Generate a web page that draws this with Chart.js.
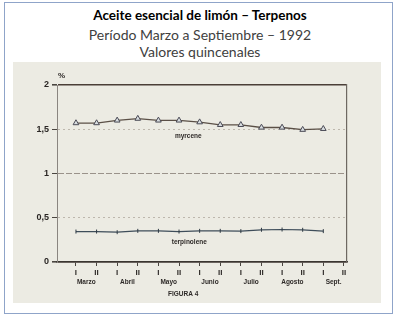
<!DOCTYPE html>
<html>
<head>
<meta charset="utf-8">
<script src="https://cdn.jsdelivr.net/npm/chart.js@4"></script>
<style>
  html, body { margin: 0; padding: 0; background: #ffffff; }
  body { width: 400px; height: 323px; position: relative; overflow: hidden; }
  #frame { position: absolute; left: 4px; top: 2px; width: 387px; height: 310px; border: 1.5px solid #8fa4c9; }
  .t { position: absolute; left: 0; width: 400px; text-align: center; font-family: Lato, "Open Sans", sans-serif; white-space: nowrap; }
  #t1 { top: 7px; font-size: 13.5px; font-weight: bold; color: #000; }
  #t2 { top: 26px; font-size: 14px; color: #404040; }
  #t3 { top: 43px; font-size: 14px; color: #404040; }
  #wrap { position: absolute; left: 13px; top: 62px; width: 368px; height: 241px; background: #ecebe3; }
</style>
</head>
<body>
<div id="frame"></div>
<div class="t" id="t1">Aceite esencial de limón – Terpenos</div>
<div class="t" id="t2">Período Marzo a Septiembre – 1992</div>
<div class="t" id="t3">Valores quincenales</div>
<div id="wrap"><canvas id="c" width="368" height="241"></canvas></div>
<script>
// ---- data ----
const periods = ["Marzo I","Marzo II","Abril I","Abril II","Mayo I","Mayo II","Junio I","Junio II","Julio I","Julio II","Agosto I","Agosto II","Sept. I"];
const halves = ["I","II"];
const months = ["Marzo","Abril","Mayo","Junio","Julio","Agosto","Sept."];
const myrcene = [1.57,1.57,1.60,1.62,1.60,1.60,1.58,1.55,1.55,1.52,1.52,1.495,1.505];
const terpinolene = [0.344,0.344,0.337,0.352,0.352,0.344,0.352,0.352,0.349,0.364,0.367,0.364,0.349];
const yTicks = [0,0.5,1,1.5,2];
const yTickLabels = ["0","0,5","1","1,5","2"];
const annotations = [
  {text:"%", x:0.3, y:2.1, size:8},
  {text:"myrcene", x:6.45, y:1.42, size:6.5},
  {text:"terpinolene", x:6.5, y:0.22, size:6.5}
];
const footer = "FIGURA 4";

const ink = "#4a4540";
const pts = (arr) => arr.map((v,i) => ({x: i+1, y: v}));

const textPlugin = {
  id: 'texts',
  afterDraw(chart) {
    const ctx = chart.ctx, xs = chart.scales.x, ys = chart.scales.y;
    ctx.save();
    ctx.fillStyle = "#2e2a28";
    ctx.textAlign = "center";
    ctx.textBaseline = "middle";
    annotations.forEach(a => {
      ctx.font = "bold " + a.size + "px 'Liberation Sans', sans-serif";
      ctx.fillText(a.text, xs.getPixelForValue(a.x), ys.getPixelForValue(a.y));
    });
    ctx.font = "bold 6.5px 'Liberation Sans', sans-serif";
    ctx.fillText(footer, xs.getPixelForValue(6.2), chart.chartArea.bottom + 32);
    ctx.restore();
  }
};

new Chart(document.getElementById('c'), {
  type: 'line',
  data: {
    datasets: [
      { label: 'myrcene', data: pts(myrcene), borderColor: "#5b5047", borderWidth: 1.3,
        pointStyle: 'triangle', pointRadius: 3.3, pointBorderWidth: 1, pointBorderColor: "#4a4a55",
        pointBackgroundColor: "#d8dde0", tension: 0, xAxisID: 'x', yAxisID: 'y' },
      { label: 'terpinolene', data: pts(terpinolene), borderColor: "#3e4d5a", borderWidth: 1.2,
        pointStyle: 'line', rotation: 90, pointRadius: 2, pointBorderWidth: 1, pointBorderColor: "#2f3a44",
        tension: 0, xAxisID: 'x', yAxisID: 'y' }
    ]
  },
  options: {
    responsive: false,
    animation: false,
    layout: { padding: { left: 14, right: 34, top: 23, bottom: 13 } },
    plugins: { legend: { display: false }, tooltip: { enabled: false }, title: { display: false } },
    scales: {
      x: {
        type: 'linear', position: 'bottom', min: 0.08, max: 14.15,
        afterBuildTicks: (s) => { s.ticks = []; for (let i = 1; i <= 14; i++) s.ticks.push({value: i}); },
        afterFit: (s) => { s.height = 16; },
        ticks: { callback: (v) => halves[(v - 1) % 2], color: "#2e2a28", padding: 2,
                 font: { family: "'Liberation Sans', sans-serif", size: 8, weight: 'bold' }, maxRotation: 0, autoSkip: false },
        grid: { drawOnChartArea: false, drawTicks: true, tickLength: 4, color: ink, tickColor: ink },
        border: { display: true, color: "#3a3530", width: 1.6 }
      },
      xm: {
        type: 'linear', position: 'bottom', min: 0.08, max: 14.15,
        afterBuildTicks: (s) => { s.ticks = months.map((m, i) => ({value: 1.5 + 2 * i})); },
        afterFit: (s) => { s.height = 12; },
        ticks: { callback: (v) => months[Math.round((v - 1.5) / 2)], color: "#2e2a28", padding: 0,
                 font: { family: "'Liberation Sans', sans-serif", size: 6.5, weight: 'bold' }, maxRotation: 0, autoSkip: false },
        grid: { display: false, drawTicks: false },
        border: { display: false }
      },
      y: {
        type: 'linear', min: 0, max: 2,
        afterBuildTicks: (s) => { s.ticks = yTicks.map(v => ({value: v})); },
        afterFit: (s) => { s.width = 30; },
        ticks: { callback: (v) => yTickLabels[yTicks.indexOf(v)], color: "#2a2624", padding: 3,
                 font: { family: "'Liberation Sans', sans-serif", size: 9, weight: 'bold' } },
        grid: {
          drawTicks: true, tickLength: 5,
          color: (c) => (c.tick && (c.tick.value === 0 || c.tick.value === 2)) ? "#4a3f38" : (c.tick && c.tick.value === 1 ? "#9a928a" : "#bdb7ad"),
          lineWidth: (c) => (c.tick && (c.tick.value === 0 || c.tick.value === 2)) ? 1.6 : 1,
          tickColor: ink
        },
        border: { display: true, color: "#8a8580", width: 1,
                  dash: (c) => (c.tick && (c.tick.value === 0 || c.tick.value === 2)) ? [] : (c.tick && c.tick.value === 1 ? [6, 2] : [2, 3]) }
      },
      yr: {
        type: 'linear', position: 'right', min: 0, max: 2,
        afterFit: (s) => { s.width = 0; },
        ticks: { display: false },
        grid: { display: false, drawTicks: false },
        border: { display: true, color: "#6e6862", width: 1.2 }
      }
    }
  },
  plugins: [textPlugin]
});
</script>
</body>
</html>
